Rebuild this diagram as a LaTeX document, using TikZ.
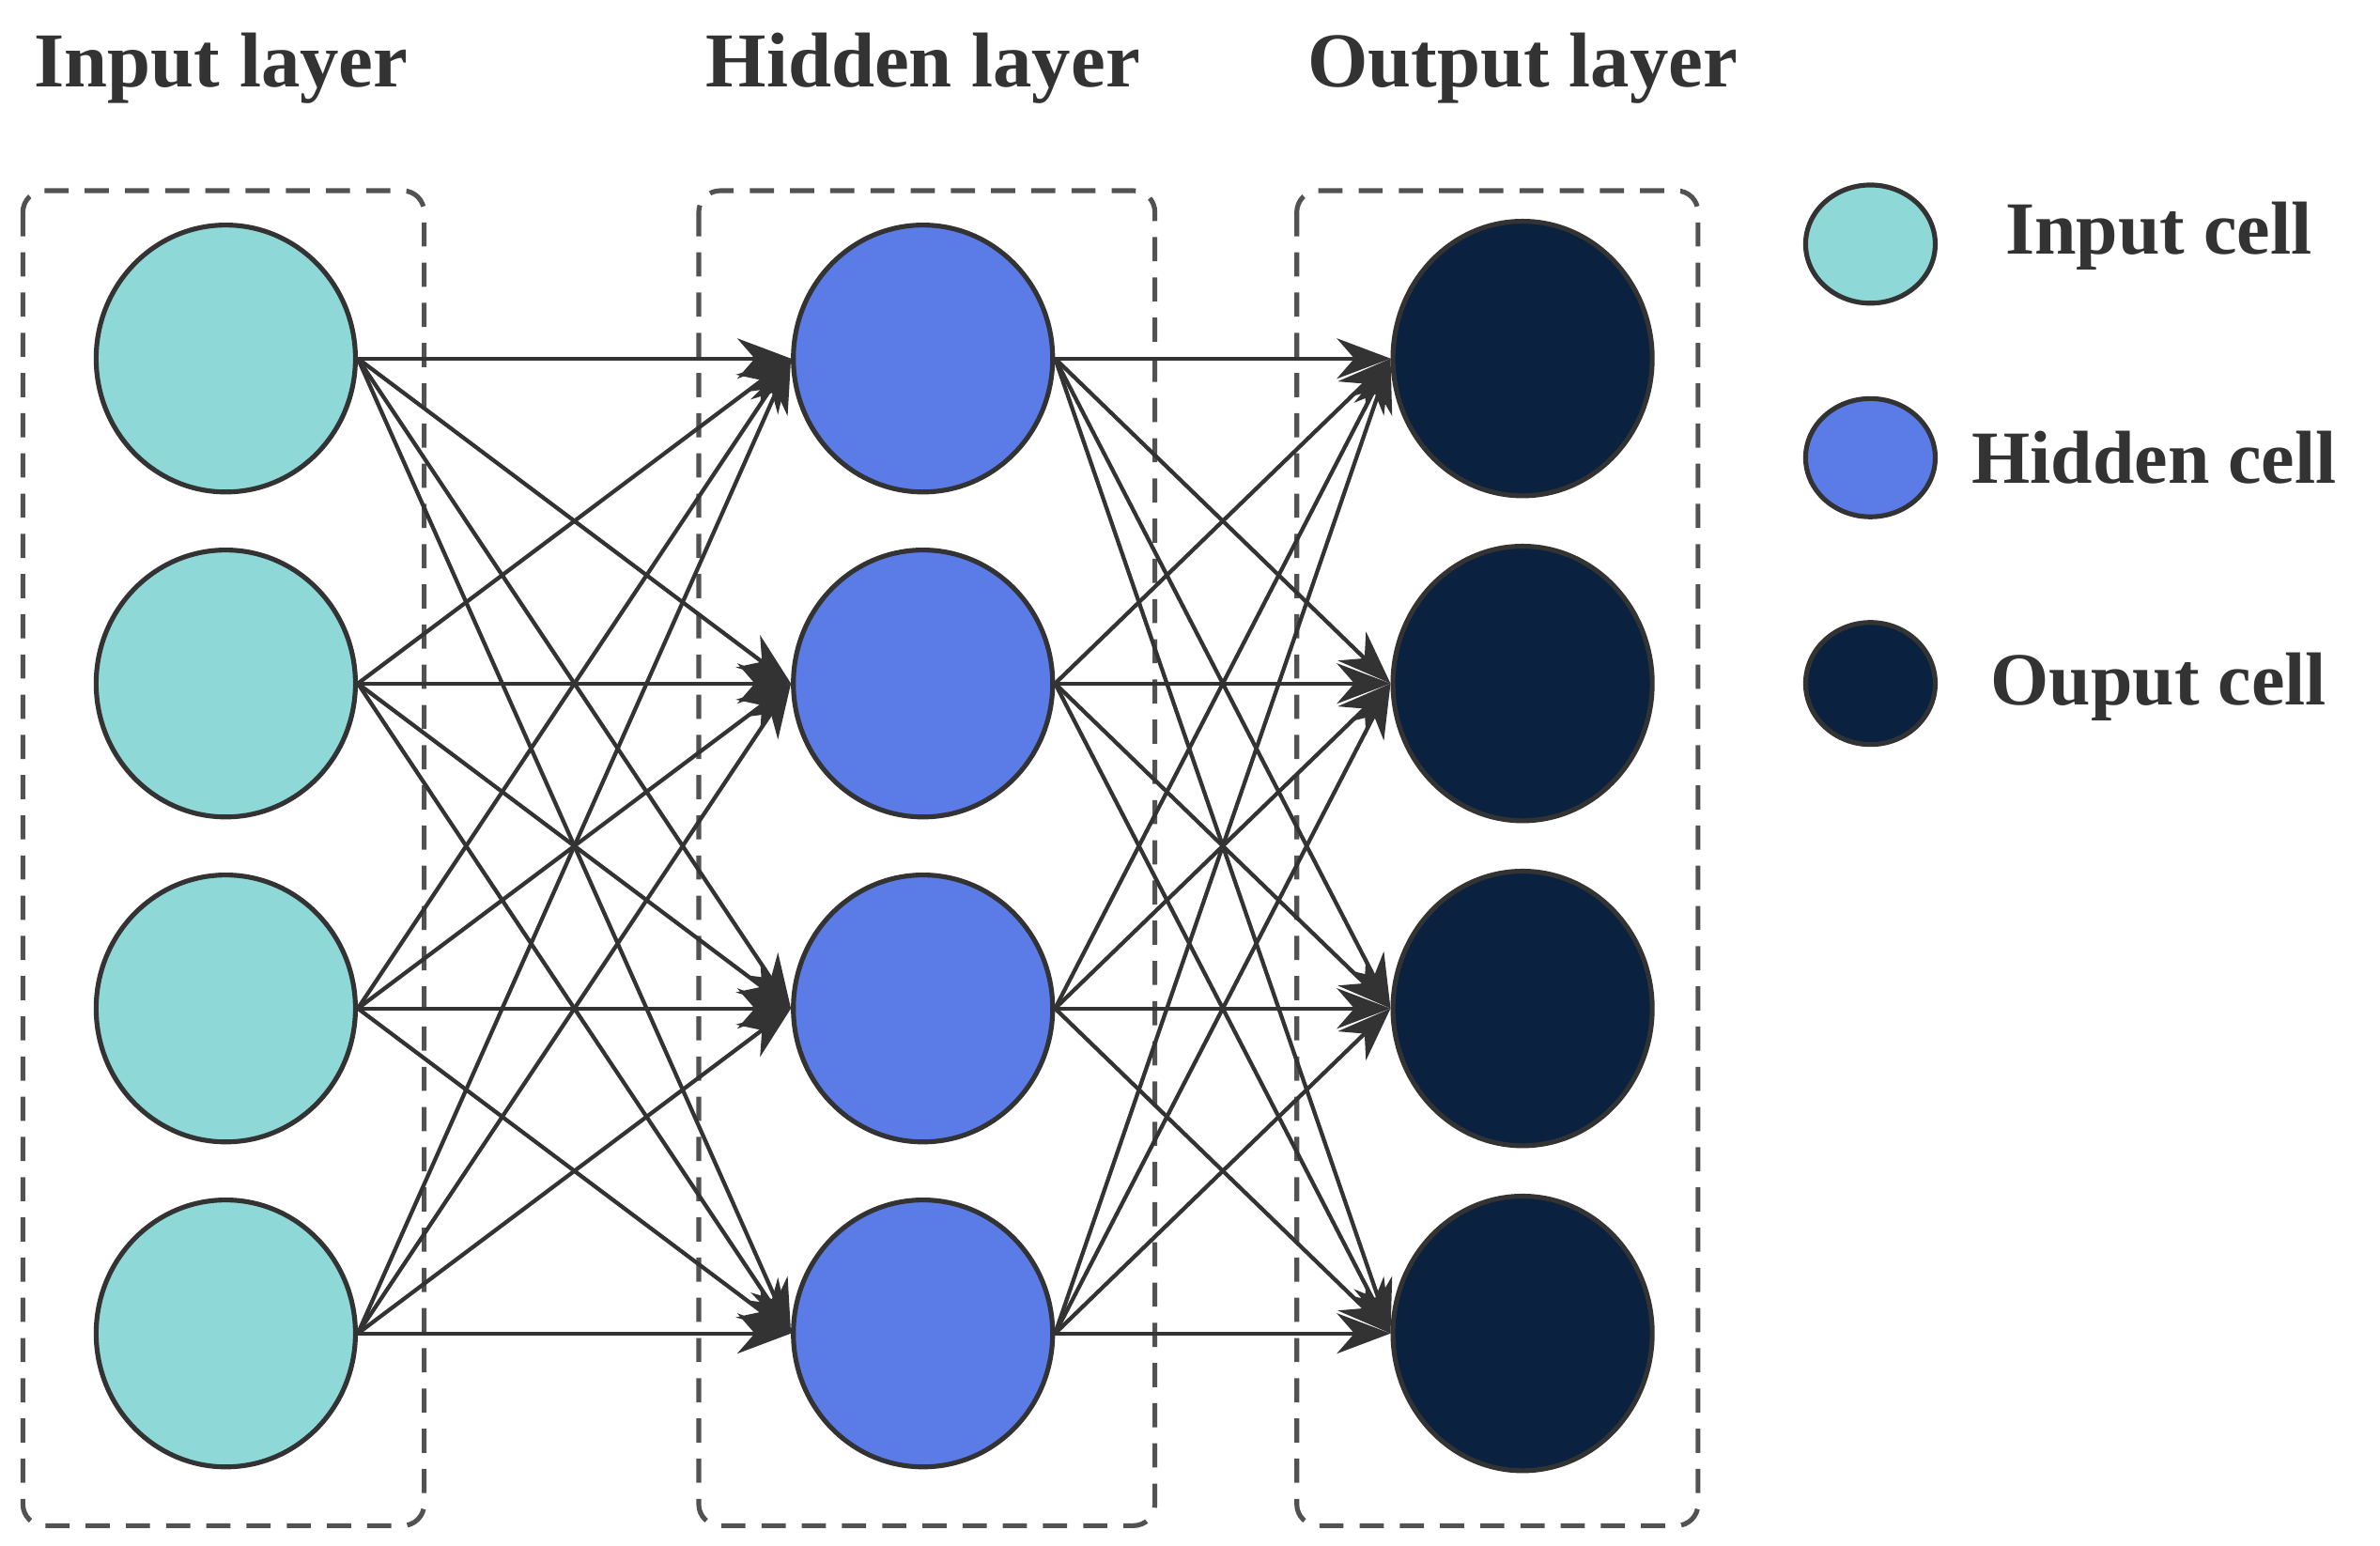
\documentclass[tikz,border=0pt]{standalone}
\usepackage{fontspec}
\setmainfont{Liberation Serif}
\usetikzlibrary{arrows.meta,shapes.geometric}
\definecolor{inc}{HTML}{8ED8D8}
\definecolor{hic}{HTML}{5B7BE6}
\definecolor{ouc}{HTML}{0A2240}
\definecolor{ln}{HTML}{333333}
\begin{document}
\begin{tikzpicture}[x=0.02cm,y=-0.02cm,
 cell/.style={ellipse,draw=ln,line width=1.8pt,inner sep=0},
 box/.style={draw=ln!85,line width=1.8pt,rounded corners=8pt,dash pattern=on 9pt off 6pt},
 ttl/.style={font=\fontsize{29}{32}\selectfont\bfseries,text=ln},
 lg/.style={font=\fontsize{28}{32}\selectfont\bfseries,text=ln},
 con/.style={draw=ln,line width=1.5pt,-{Stealth[length=20pt,width=15pt]}}]
\useasboundingbox (0,0) rectangle (1560,1013);
\draw[box] (15,125) rectangle (278,1000);
\draw[box] (458,125) rectangle (757,1000);
\draw[box] (850,125) rectangle (1113,1000);
\node[ttl] (t1) at (145,45) {Input layer};
\node[ttl] (t2) at (605,45) {Hidden layer};
\node[ttl] (t3) at (998,45) {Output layer};
\foreach \i/\y in {1/235,2/448,3/661,4/874}{
 \node[cell,fill=inc,minimum width=3.4cm,minimum height=3.5cm] (a\i) at (148,\y) {};
 \node[cell,fill=hic,minimum width=3.4cm,minimum height=3.5cm] (b\i) at (605,\y) {};
 \node[cell,fill=ouc,minimum width=3.4cm,minimum height=3.6cm] (c\i) at (998,\y) {};
}
\foreach \i in {1,...,4}{\foreach \j in {1,...,4}{
 \draw[con] (a\i.east) -- (b\j.west);
 \draw[con] (b\i.east) -- (c\j.west);
}}
\node[cell,fill=inc,minimum width=1.7cm,minimum height=1.55cm] (l1) at (1226,160) {};
\node[cell,fill=hic,minimum width=1.7cm,minimum height=1.55cm] (l2) at (1226,300) {};
\node[cell,fill=ouc,minimum width=1.7cm,minimum height=1.6cm] (l3) at (1226,448) {};
\node[lg] (n1) at (1415,155) {Input cell};
\node[lg] (n2) at (1412,300) {Hidden cell};
\node[lg] (n3) at (1415,450) {Ouput cell};
\end{tikzpicture}
\end{document}
